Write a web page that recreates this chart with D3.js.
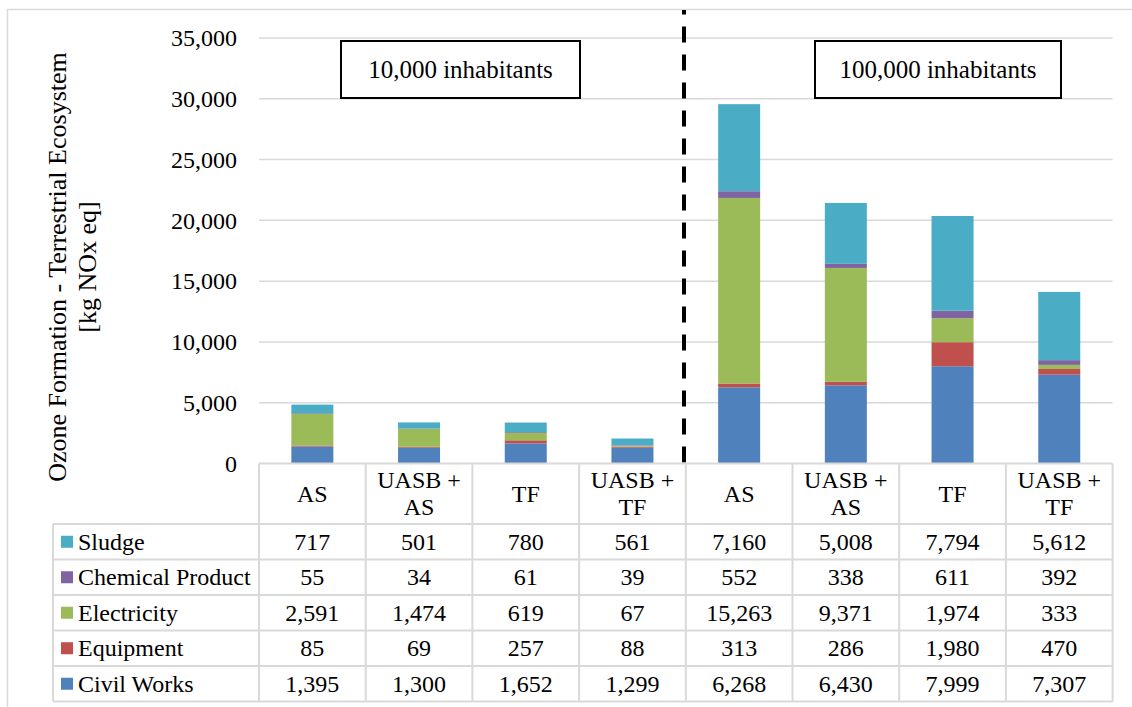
<!DOCTYPE html>
<html>
<head>
<meta charset="utf-8">
<script src="https://cdn.jsdelivr.net/npm/d3@7"></script>
<style>
  html, body { margin: 0; padding: 0; background: #fff; }
  svg { display: block; }
</style>
</head>
<body>
<svg id="chart" width="1132" height="707"></svg>
<script>
// Treatment systems (two city sizes, four systems each)
const categories = ["AS", "UASB + AS", "TF", "UASB + TF", "AS", "UASB + AS", "TF", "UASB + TF"];
const headerLines = [["AS"], ["UASB +", "AS"], ["TF"], ["UASB +", "TF"], ["AS"], ["UASB +", "AS"], ["TF"], ["UASB +", "TF"]];

// Impact contributions, kg NOx eq
const civilWorks      = [1395, 1300, 1652, 1299, 6268, 6430, 7999, 7307];
const equipment       = [85, 69, 257, 88, 313, 286, 1980, 470];
const electricity     = [2591, 1474, 619, 67, 15263, 9371, 1974, 333];
const chemicalProduct = [55, 34, 61, 39, 552, 338, 611, 392];
const sludge          = [717, 501, 780, 561, 7160, 5008, 7794, 5612];

const seriesNames  = ["Civil Works", "Equipment", "Electricity", "Chemical Product", "Sludge"];
const seriesValues = [civilWorks, equipment, electricity, chemicalProduct, sludge];
const seriesColors = ["#4f81bd", "#c0504d", "#9bbb59", "#8064a2", "#4bacc6"];

const yTicks = [0, 5000, 10000, 15000, 20000, 25000, 30000, 35000];
const groupLabels = ["10,000 inhabitants", "100,000 inhabitants"];

const FONT = "Liberation Serif";
const svg = d3.select("#chart");
const fmt = d3.format(",");

// Layout
const plotLeft = 259, plotRight = 1112.6;
const plotTop = 38, plotBottom = 463.5;
const headerBottom = 524, rowH = 35.5;
const legendLeft = 53;
const gridColor = "#d9d9d9";

const x = d3.scaleBand().domain(d3.range(categories.length)).range([plotLeft, plotRight]);
const y = d3.scaleLinear().domain([0, 35000]).range([plotBottom, plotTop]);
const barW = 42;

// Outer chart frame
svg.append("rect")
  .attr("x", 7.5).attr("y", 9.5).attr("width", 1140).attr("height", 720)
  .attr("fill", "none").attr("stroke", gridColor).attr("stroke-width", 1.5);

// Horizontal gridlines
svg.append("g").selectAll("line").data(yTicks.filter(d => d > 0)).join("line")
  .attr("x1", plotLeft).attr("x2", plotRight)
  .attr("y1", d => y(d)).attr("y2", d => y(d))
  .attr("stroke", gridColor).attr("stroke-width", 1.5);

// Y axis labels
const yAxis = d3.axisLeft(y).tickValues(yTicks).tickFormat(fmt).tickSize(0).tickPadding(0);
const yAxisG = svg.append("g").attr("transform", "translate(237,0)").call(yAxis);
yAxisG.attr("font-family", null).attr("font-size", null);
yAxisG.select(".domain").remove();
yAxisG.selectAll("text")
  .style("font-family", FONT).style("font-size", "24px").attr("fill", "#000");

// Stacked bars
const rows = categories.map((c, i) => {
  const o = { idx: i };
  seriesNames.forEach((s, k) => { o[s] = seriesValues[k][i]; });
  return o;
});
const stacked = d3.stack().keys(seriesNames)(rows);
svg.append("g").selectAll("g").data(stacked).join("g")
  .attr("fill", (d, k) => seriesColors[k])
  .selectAll("rect").data(d => d).join("rect")
  .attr("x", d => x(d.data.idx) + x.bandwidth() / 2 - barW / 2)
  .attr("width", barW)
  .attr("y", d => y(d[1]))
  .attr("height", d => y(d[0]) - y(d[1]));

// Divider between city sizes
svg.append("line")
  .attr("x1", 684).attr("x2", 684)
  .attr("y1", plotBottom - 1).attr("y2", 10)
  .attr("stroke", "#000").attr("stroke-width", 4)
  .attr("stroke-dasharray", "16,12");

// Group annotation boxes
const boxes = [{ x0: 341, x1: 580, label: groupLabels[0] }, { x0: 815, x1: 1061, label: groupLabels[1] }];
const boxG = svg.append("g");
boxes.forEach(b => {
  boxG.append("rect").attr("x", b.x0).attr("y", 41).attr("width", b.x1 - b.x0).attr("height", 57)
    .attr("fill", "#fff").attr("stroke", "#000").attr("stroke-width", 2);
  boxG.append("text").attr("x", (b.x0 + b.x1) / 2).attr("y", 69.5)
    .attr("text-anchor", "middle").attr("dominant-baseline", "central")
    .style("font-family", FONT).style("font-size", "25px").text(b.label);
});

// Y axis title (two lines)
const titleG = svg.append("g");
titleG.append("text").attr("transform", "translate(66,267) rotate(-90)")
  .attr("text-anchor", "middle").style("font-family", FONT).style("font-size", "26px")
  .text("Ozone Formation - Terrestrial Ecosystem");
titleG.append("text").attr("transform", "translate(96,267) rotate(-90)")
  .attr("text-anchor", "middle").style("font-family", FONT).style("font-size", "26px")
  .text("[kg NOx eq]");

// Data table
const tableG = svg.append("g");
const tableBottom = headerBottom + rowH * seriesNames.length;
tableG.append("g").selectAll("line").data(d3.range(categories.length + 1)).join("line")
  .attr("x1", i => i < categories.length ? x(i) : plotRight)
  .attr("x2", i => i < categories.length ? x(i) : plotRight)
  .attr("y1", plotBottom).attr("y2", tableBottom)
  .attr("stroke", gridColor).attr("stroke-width", 2);
tableG.append("line").attr("x1", plotLeft).attr("x2", plotRight)
  .attr("y1", plotBottom).attr("y2", plotBottom).attr("stroke", gridColor).attr("stroke-width", 2);
tableG.append("g").selectAll("line").data(d3.range(seriesNames.length + 1)).join("line")
  .attr("x1", legendLeft).attr("x2", plotRight)
  .attr("y1", r => headerBottom + r * rowH).attr("y2", r => headerBottom + r * rowH)
  .attr("stroke", gridColor).attr("stroke-width", 2);
tableG.append("line").attr("x1", legendLeft).attr("x2", legendLeft)
  .attr("y1", headerBottom).attr("y2", tableBottom).attr("stroke", gridColor).attr("stroke-width", 2);

// Category headers
headerLines.forEach((lines, i) => {
  const cx = x(i) + x.bandwidth() / 2;
  const cy = (plotBottom + headerBottom) / 2;
  const lh = 27;
  lines.forEach((ln, j) => {
    tableG.append("text").attr("x", cx).attr("y", cy + (j - (lines.length - 1) / 2) * lh)
      .attr("text-anchor", "middle").attr("dominant-baseline", "central")
      .style("font-family", FONT).style("font-size", "24px").text(ln);
  });
});

// Table rows: top row is the top of the stack
const tableOrder = d3.range(seriesNames.length).reverse();
tableOrder.forEach((k, r) => {
  const cy = headerBottom + r * rowH + rowH / 2;
  tableG.append("rect").attr("x", 61).attr("y", cy - 6).attr("width", 12).attr("height", 12)
    .attr("fill", seriesColors[k]);
  tableG.append("text").attr("x", 78).attr("y", cy).attr("dominant-baseline", "central")
    .style("font-family", FONT).style("font-size", "24px").text(seriesNames[k]);
  tableG.append("g").selectAll("text").data(seriesValues[k]).join("text")
    .attr("x", (d, i) => x(i) + x.bandwidth() / 2).attr("y", cy)
    .attr("text-anchor", "middle").attr("dominant-baseline", "central")
    .style("font-family", FONT).style("font-size", "24px").text(d => fmt(d));
});
</script>
</body>
</html>
